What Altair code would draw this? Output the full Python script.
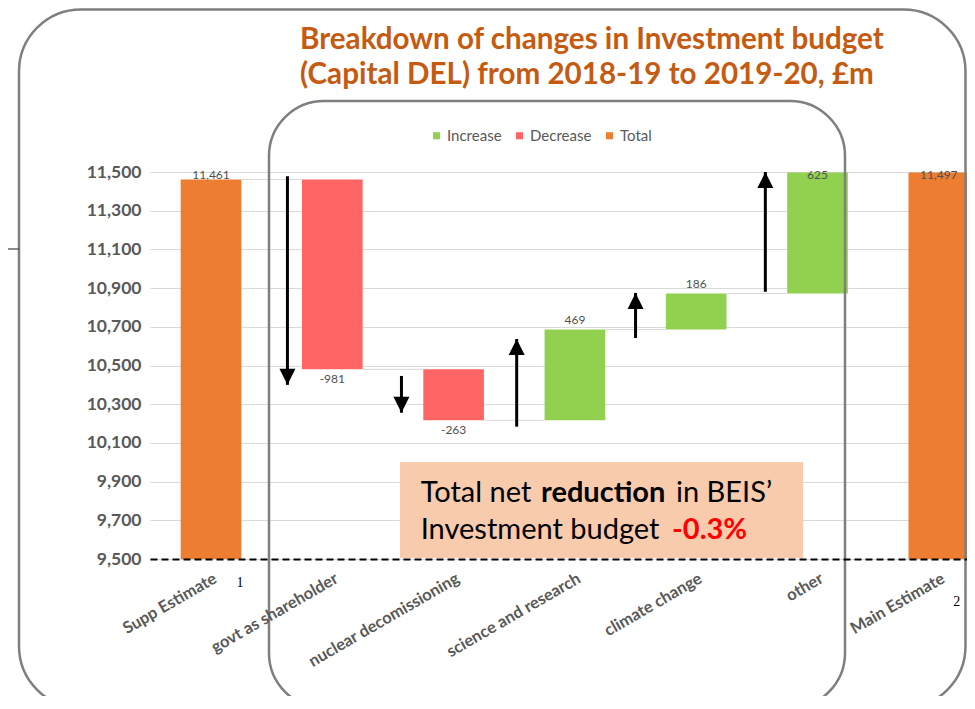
import json
import altair as alt
import pandas as pd

# ---------------- data ----------------
categories = ["Supp Estimate", "govt as shareholder", "nuclear decomissioning",
              "science and research", "climate change", "other", "Main Estimate"]
amounts = [11461, -981, -263, 469, 186, 625, 11497]
kinds = ["Total", "Decrease", "Decrease", "Increase", "Increase", "Increase", "Total"]
value_labels = ["11,461", "-981", "-263", "469", "186", "625", "11,497"]

y_ticks = [9500, 9700, 9900, 10100, 10300, 10500, 10700, 10900, 11100, 11300, 11500]
axis_base = 9500
axis_top = 11500

legend_order = ["Increase", "Decrease", "Total"]
legend_colors = ["#92D050", "#FF6565", "#ED7D31"]

# arrows drawn between the steps (x in category-index units, y in £m)
arrow_x = [0.63, 1.57, 2.52, 3.50, 4.57]
arrow_from = [11478, 10446, 10184, 10642, 10881]
arrow_to = [10400, 10256, 10637, 10875, 11500]

title_lines = ["Breakdown of changes in Investment budget",
               "(Capital DEL) from 2018-19 to 2019-20, £m"]
note_line1 = ["Total net ", "reduction", " in BEIS\u2019"]
note_line2 = ["Investment budget ", "-0.3%"]
slide_numbers = ["1", "2"]

# ---------------- tables ----------------
half = 0.25
rows = []
running = None
for i, (cat, amt, kind, lab) in enumerate(zip(categories, amounts, kinds, value_labels)):
    if kind == "Total":
        start, end = axis_base, amt
    else:
        start, end = running, running + amt
    running = end
    top, bottom = max(start, end), min(start, end)
    rows.append(dict(idx=i, category=cat, kind=kind, label=lab,
                     lo=i - half, hi=i + half, top=top, bottom=bottom, end=end))
df = pd.DataFrame(rows)

conn = pd.DataFrame([dict(x1=r["idx"] + half, x2=r["idx"] + 1 - half, level=r["end"])
                     for r in rows[:-1]])

clamp = axis_top - 69
df["label_y"] = [min(t, clamp) if k != "Decrease" else b
                 for t, b, k in zip(df["top"], df["bottom"], df["kind"])]

arrows = pd.DataFrame(dict(ax=arrow_x, y_from=arrow_from, y_to=arrow_to))
arrows["dir"] = ["down" if t < f else "up" for f, t in zip(arrow_from, arrow_to)]

one = pd.DataFrame({"a": [0]})

# ---------------- scales ----------------
xscale = alt.Scale(domain=[-0.503, 6.2325], nice=False, zero=False)
yscale = alt.Scale(domain=[axis_base, axis_top], nice=False, zero=False)

GRAY = "#595959"
FONT = "Lato"

label_expr = json.dumps(categories) + "[datum.value]"

bars = alt.Chart(df).mark_rect().encode(
    x=alt.X("lo:Q", scale=xscale,
            axis=alt.Axis(values=list(range(len(categories))), tickCount=len(categories) + 2,
                          labelExpr=label_expr,
                          labelAngle=330, labelAlign="right", labelBaseline="top",
                          labelPadding=11, ticks=False, tickSize=0, grid=False,
                          domainColor="black", domainWidth=2, domainDash=[7, 4],
                          labelFont=FONT, labelFontWeight="bold", labelFontSize=16.5,
                          labelColor=GRAY, labelOverlap=False, labelFlush=False,
                          title=None, zindex=1)),
    x2="hi:Q",
    y=alt.Y("top:Q", scale=yscale,
            axis=alt.Axis(values=y_ticks, tickCount=len(y_ticks) + 2, format=",.0f",
                          domain=False, ticks=False,
                          tickSize=0, grid=True, gridColor="#D9D9D9", labelPadding=9,
                          labelFont=FONT, labelFontWeight="bold", labelFontSize=17.5,
                          labelColor=GRAY, labelOverlap=False, labelBound=False,
                          title=None)),
    y2="bottom:Q",
    color=alt.Color("kind:N", scale=alt.Scale(domain=legend_order, range=legend_colors),
                    legend=alt.Legend(orient="none", legendX=279, legendY=-44,
                                      direction="horizontal", title=None,
                                      symbolType="square", symbolSize=50,
                                      symbolStrokeWidth=0, labelFont=FONT,
                                      labelFontSize=15, labelColor=GRAY,
                                      labelOffset=3, columnPadding=10, padding=0)),
)

connectors = alt.Chart(conn).mark_rule(color="#D9D9D9", strokeWidth=1).encode(
    x=alt.X("x1:Q", scale=xscale), x2="x2:Q",
    y=alt.Y("level:Q", scale=yscale),
)

labels_up = alt.Chart(df).transform_filter("datum.kind != 'Decrease'").mark_text(
    baseline="bottom", dy=-3, font=FONT, fontSize=12, color="#505050").encode(
    x=alt.X("idx:Q", scale=xscale),
    y=alt.Y("label_y:Q", scale=yscale),
    text="label:N",
)
labels_down = alt.Chart(df).transform_filter("datum.kind == 'Decrease'").mark_text(
    baseline="top", dy=5, font=FONT, fontSize=12, color="#505050").encode(
    x=alt.X("idx:Q", scale=xscale),
    y=alt.Y("label_y:Q", scale=yscale),
    text="label:N",
)

shafts = alt.Chart(arrows).mark_rule(color="black", strokeWidth=3).encode(
    x=alt.X("ax:Q", scale=xscale),
    y=alt.Y("y_from:Q", scale=yscale), y2="y_to:Q",
)
heads = alt.Chart(arrows).mark_point(filled=True, color="black", opacity=1,
                                     size=256, strokeWidth=0).encode(
    x=alt.X("ax:Q", scale=xscale),
    y=alt.Y("y_to:Q", scale=yscale),
    shape=alt.Shape("dir:N", scale=alt.Scale(domain=["down", "up"],
                    range=["M-1,-2L1,-2L0,0Z", "M-1,2L1,2L0,0Z"]), legend=None),
)

# annotation box
note_box = alt.Chart(one).mark_rect(fill="#F8CBAD").encode(
    x=alt.value(250), x2=alt.value(653), y=alt.value(290), y2=alt.value(386))


def txt(s, x, y, **kw):
    base = dict(align="left", baseline="alphabetic", font=FONT, fontSize=29, color="black")
    base.update(kw)
    return alt.Chart(one).mark_text(**base).encode(
        x=alt.value(x), y=alt.value(y), text=alt.value(s))


note_texts = [
    txt(note_line1[0], 270.7, 329.7),
    txt(note_line1[1], 391, 329.7, fontWeight="bold"),
    txt(note_line1[2], 526, 329.7),
    txt(note_line2[0], 270.7, 367.3),
    txt(note_line2[1], 522, 367.3, fontWeight="bold", color="#FF0000"),
]

titles = [
    txt(title_lines[0], 150, -123, fontSize=29.6, fontWeight="bold", color="#C55A11"),
    txt(title_lines[1], 150, -88.5, fontSize=29.6, fontWeight="bold", color="#C55A11"),
]

# slide frames
frame_outer = alt.Chart(one).mark_rect(fillOpacity=0, stroke="#7F7F7F", strokeWidth=2.5,
                                       cornerRadius=62).encode(
    x=alt.value(-131), x2=alt.value(815.5), y=alt.value(-162.5), y2=alt.value(536))
frame_inner = alt.Chart(one).mark_rect(fillOpacity=0, stroke="#7F7F7F", strokeWidth=2.5,
                                       cornerRadius=55).encode(
    x=alt.value(119), x2=alt.value(695), y=alt.value(-71), y2=alt.value(536))
left_line = alt.Chart(one).mark_rule(color="#404040", strokeWidth=1.2).encode(
    x=alt.value(-142), x2=alt.value(-131), y=alt.value(77))

nums = [
    txt(slide_numbers[0], 90, 411, align="center", baseline="middle",
        font="Liberation Serif", fontSize=14),
    txt(slide_numbers[1], 806.7, 429.7, align="center", baseline="middle",
        font="Liberation Serif", fontSize=14),
]

chart = alt.layer(
    bars, connectors, labels_up, labels_down, shafts, heads,
    note_box, *note_texts, *titles, frame_outer, frame_inner, left_line, *nums,
).properties(
    width=817, height=387,
    autosize=alt.AutoSizeParams(type="none"),
    padding={"left": 142, "top": 164, "right": 0, "bottom": 137},
).configure_view(strokeWidth=0)

chart.save("out.html", embed_options={"renderer": "svg", "actions": False})
